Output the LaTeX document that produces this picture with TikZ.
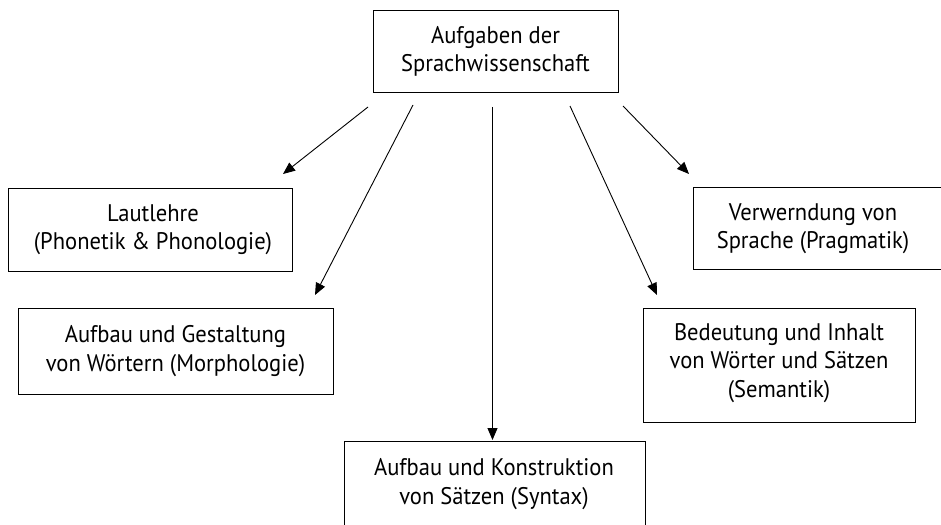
\documentclass[tikz,border=0pt]{standalone}
\usepackage{fontspec}
\setmainfont[FakeStretch=0.94]{PT Sans}
\usetikzlibrary{arrows.meta}
\tikzset{
  boxstyle/.style={draw=black, line width=1pt, rectangle, inner sep=0pt},
  labeltext/.style={align=center, inner sep=0pt, font=\fontsize{24}{28.5}\selectfont},
  arr/.style={draw=black, line width=0.9pt, -{Triangle[length=12pt,width=10pt]}}
}
\begin{document}
\begin{tikzpicture}[x=1pt,y=-1pt]
\useasboundingbox (0,0) rectangle (941,524);
\fill[white] (0,0) rectangle (941,524);
\clip (0,0) rectangle (941,524);
% boxes
\node[boxstyle, minimum width=245pt, minimum height=82pt] (top) at (495.5,52) {};
\node[labeltext] (toptext) at (495.5,51.5) {Aufgaben der\\Sprachwissenschaft};
\node[boxstyle, minimum width=284pt, minimum height=83pt] (laut) at (150,229.5) {};
\node[labeltext] (lauttext) at (153,229.5) {Lautlehre\\(Phonetik \& Phonologie)};
\node[boxstyle, minimum width=315pt, minimum height=86pt] (morph) at (175.5,351) {};
\node[labeltext] (morphtext) at (175.5,351) {Aufbau und Gestaltung\\von Wörtern (Morphologie)};
\node[boxstyle, minimum width=267pt, minimum height=82pt] (prag) at (826.5,228) {};
\node[labeltext] (pragtext) at (813,228.5) {Verwerndung von\\Sprache (Pragmatik)};
\node[boxstyle, minimum width=272pt, minimum height=114pt] (sem) at (779,365) {};
\node[labeltext] (semtext) at (779,363) {Bedeutung und Inhalt\\von Wörter und Sätzen\\(Semantik)};
\node[boxstyle, minimum width=301pt, minimum height=120pt] (syn) at (494.5,501) {};
\node[labeltext] (syntext) at (494,484) {Aufbau und Konstruktion\\von Sätzen (Syntax)};
% arrow endpoints
\coordinate (s1) at (368,107); \coordinate (e1) at (283,174);
\coordinate (s2) at (413,105); \coordinate (e2) at (315,295);
\coordinate (s3) at (492.5,107); \coordinate (e3) at (492.5,440);
\coordinate (s4) at (570,106); \coordinate (e4) at (657,295);
\coordinate (s5) at (623,106); \coordinate (e5) at (689,174);
\draw[arr] (s1) -- (e1);
\draw[arr] (s2) -- (e2);
\draw[arr] (s3) -- (e3);
\draw[arr] (s4) -- (e4);
\draw[arr] (s5) -- (e5);
\end{tikzpicture}
\end{document}
